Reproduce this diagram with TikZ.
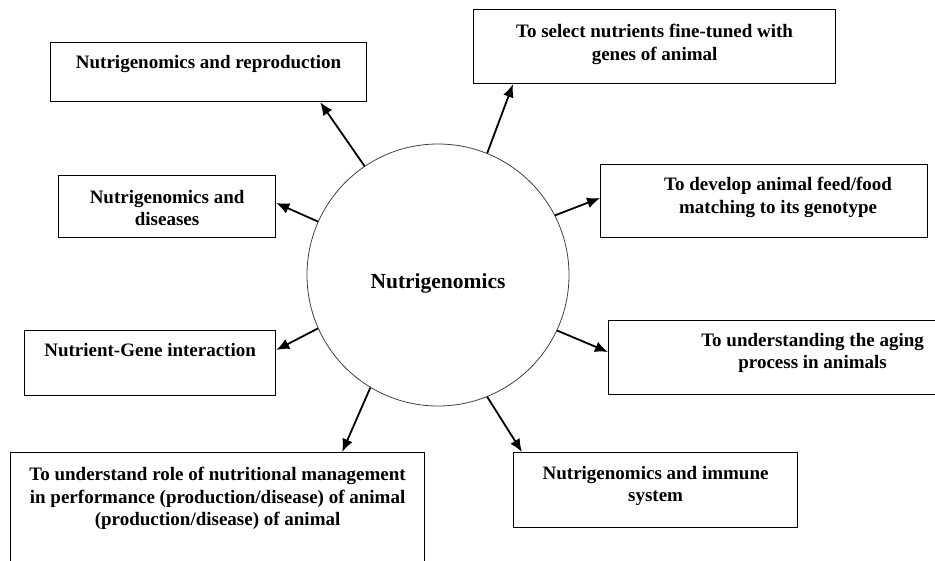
\documentclass[tikz,border=0pt]{standalone}
\usepackage{fontspec}
\setmainfont{Liberation Serif}
\usetikzlibrary{arrows.meta, positioning}
\newcommand\boxfont{\fontsize{19}{22.5}\selectfont\bfseries}
\newcommand\hubfont{\fontsize{21.5}{25}\selectfont\bfseries}

\begin{document}
\begin{tikzpicture}[x=1pt, y=-1pt,
  frame/.style={draw, line width=1.2pt, anchor=north west, inner sep=0pt},
  txt/.style={align=center, font=\boxfont, inner sep=0pt},
  hub/.style={draw=black!75, line width=0.8pt, circle, minimum size=262pt,
              inner sep=0pt, font=\hubfont, text height=26pt, text depth=0pt},
  a/.style={-{Latex[length=13pt, width=11pt]}, line width=1.8pt}]
  \clip (0,0) rectangle (935,560);
  \node[hub] (hub) at (438,275) {Nutrigenomics};
  % boxes round the hub
  \node[frame, minimum width=316pt, minimum height=59pt] (repro) at (50,42) {};
  \node[frame, minimum width=362pt, minimum height=74pt] (sel) at (473,9) {};
  \node[frame, minimum width=217pt, minimum height=62pt] (dis) at (58,175) {};
  \node[frame, minimum width=327pt, minimum height=73pt] (feed) at (600,164) {};
  \node[frame, minimum width=251pt, minimum height=65pt] (gene) at (24,330) {};
  \node[frame, minimum width=340pt, minimum height=74pt] (aging) at (608,320) {};
  \node[frame, minimum width=414pt, minimum height=130pt] (role) at (10,452) {};
  \node[frame, minimum width=284pt, minimum height=75pt] (immune) at (513,452) {};
  % texts
  \node[txt, below=13pt of repro.north] (reprotxt) {Nutrigenomics and reproduction};
  \node[txt, below=15pt of sel.north] (seltxt) {To select nutrients fine-tuned with\\genes of animal};
  \node[txt, below=15pt of dis.north] (distxt) {Nutrigenomics and\\diseases};
  \node[txt, below=13pt of feed.north, xshift=14pt] (feedtxt) {To develop animal feed/food\\matching to its genotype};
  \node[txt, below=13pt of gene.north] (genetxt) {Nutrient-Gene interaction};
  \node[txt, below=13pt of aging.north, xshift=34pt] (agingtxt) {To understanding the aging\\process in animals};
  \node[txt, below=15pt of role.north] (roletxt) {To understand role of nutritional management\\in performance (production/disease) of animal\\(production/disease) of animal};
  \node[txt, below=14pt of immune.north] (immunetxt) {Nutrigenomics and immune\\system};
  % arrows
  \draw[a] (hub.124) -- ([xshift=-47pt]repro.south east);
  \draw[a] (hub.68) -- ([xshift=40pt]sel.south west);
  \draw[a] (hub.156) -- ([yshift=-28pt]dis.north east);
  \draw[a] (hub.27) -- ([yshift=-34pt]feed.north west);
  \draw[a] (hub.204) -- ([yshift=-20pt]gene.north east);
  \draw[a] (hub.335) -- ([yshift=-32pt]aging.north west);
  \draw[a] (hub.239) -- ([xshift=-83pt]role.north east);
  \draw[a] (hub.292) -- ([xshift=9pt]immune.north west);
\end{tikzpicture}
\end{document}
